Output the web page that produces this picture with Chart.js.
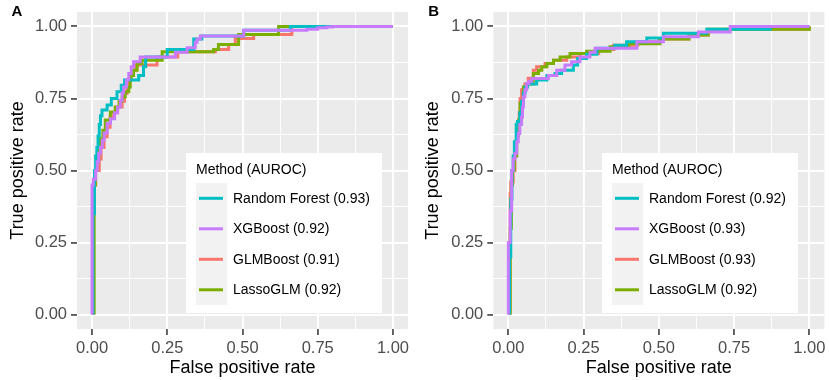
<!DOCTYPE html>
<html><head><meta charset="utf-8">
<script src="https://cdn.jsdelivr.net/npm/chart.js@4/dist/chart.umd.min.js"></script>
<style>
html,body{margin:0;padding:0;background:#fff;}
#wrap{position:relative;width:829px;height:380px;}
canvas{position:absolute;top:0;}
#cA{left:0}
#cB{left:415px}
</style></head><body>
<div id="wrap"><canvas id="cA" width="415" height="380"></canvas><canvas id="cB" width="414" height="380"></canvas></div>
<script>
// ---- data ----
const methods = ['Random Forest', 'XGBoost', 'GLMBoost', 'LassoGLM'];
const aurocA = [0.93, 0.92, 0.91, 0.92];
const aurocB = [0.92, 0.93, 0.93, 0.92];
const majorTicks = [0, 0.25, 0.5, 0.75, 1];
const minorTicks = [0.125, 0.375, 0.625, 0.875];
const xTitle = 'False positive rate';
const yTitle = 'True positive rate';
const legendTitle = 'Method (AUROC)';

// ROC step points [fpr where the level ends, tpr level]
const rocA_RF = [[0.003,0],[0.008,0.35],[0.012,0.50],[0.016,0.55],[0.020,0.58],[0.024,0.62],[0.028,0.66],[0.033,0.69],[0.050,0.71],[0.064,0.727],[0.083,0.75],[0.097,0.773],[0.108,0.796],[0.155,0.814],[0.171,0.83],[0.178,0.86],[0.250,0.894],[0.338,0.92],[0.365,0.956],[0.504,0.967],[0.659,0.987],[1.0,1.0]];
const rocA_XGB = [[0,0],[0.004,0.45],[0.012,0.47],[0.017,0.50],[0.022,0.53],[0.028,0.56],[0.034,0.58],[0.040,0.605],[0.050,0.63],[0.061,0.663],[0.075,0.68],[0.085,0.70],[0.094,0.72],[0.100,0.744],[0.105,0.77],[0.114,0.79],[0.122,0.815],[0.130,0.837],[0.138,0.86],[0.160,0.877],[0.277,0.894],[0.316,0.91],[0.343,0.926],[0.349,0.945],[0.360,0.956],[0.504,0.967],[0.714,0.987],[0.750,0.99],[0.780,0.995],[0.800,0.998],[1.0,1.0]];
const rocA_GLM = [[0.005,0],[0.012,0.45],[0.024,0.50],[0.030,0.54],[0.040,0.58],[0.050,0.617],[0.060,0.65],[0.072,0.686],[0.085,0.70],[0.100,0.72],[0.108,0.74],[0.116,0.767],[0.122,0.79],[0.127,0.814],[0.135,0.83],[0.144,0.848],[0.216,0.866],[0.285,0.894],[0.410,0.912],[0.454,0.92],[0.476,0.937],[0.537,0.958],[0.664,0.972],[1.0,1.0]];
const rocA_Lasso = [[0.007,0],[0.011,0.45],[0.015,0.50],[0.022,0.54],[0.028,0.582],[0.036,0.61],[0.044,0.64],[0.061,0.675],[0.077,0.703],[0.090,0.72],[0.100,0.74],[0.110,0.755],[0.122,0.773],[0.127,0.79],[0.130,0.814],[0.138,0.83],[0.150,0.848],[0.166,0.871],[0.233,0.883],[0.404,0.912],[0.420,0.92],[0.487,0.937],[0.620,0.972],[1.0,1.0]];

const rocB_RF = [[0.004,0],[0.008,0.20],[0.012,0.40],[0.016,0.50],[0.020,0.55],[0.026,0.60],[0.030,0.66],[0.038,0.67],[0.044,0.70],[0.050,0.74],[0.056,0.77],[0.064,0.79],[0.094,0.80],[0.128,0.814],[0.155,0.83],[0.177,0.837],[0.216,0.848],[0.230,0.866],[0.260,0.889],[0.294,0.903],[0.354,0.924],[0.393,0.935],[0.460,0.947],[0.515,0.96],[0.659,0.976],[0.870,0.99],[1.0,1.0]];
const rocB_XGB = [[0,0],[0.006,0.25],[0.011,0.36],[0.016,0.50],[0.022,0.54],[0.028,0.56],[0.033,0.60],[0.038,0.628],[0.044,0.66],[0.047,0.686],[0.050,0.72],[0.055,0.755],[0.061,0.78],[0.068,0.802],[0.078,0.81],[0.133,0.819],[0.161,0.83],[0.188,0.848],[0.210,0.866],[0.238,0.877],[0.271,0.894],[0.288,0.91],[0.427,0.924],[0.515,0.947],[0.631,0.964],[0.737,0.981],[1.0,1.0]];
const rocB_GLM = [[0.006,0],[0.008,0.42],[0.016,0.46],[0.022,0.50],[0.026,0.55],[0.030,0.60],[0.036,0.65],[0.039,0.70],[0.044,0.75],[0.055,0.78],[0.066,0.80],[0.083,0.82],[0.094,0.848],[0.122,0.86],[0.150,0.871],[0.194,0.883],[0.238,0.894],[0.300,0.906],[0.350,0.92],[0.430,0.935],[0.500,0.947],[0.600,0.956],[0.664,0.97],[0.726,0.984],[1.0,0.99],[1.0,1.0]];
const rocB_Lasso = [[0.006,0],[0.010,0.30],[0.014,0.45],[0.020,0.50],[0.028,0.55],[0.034,0.62],[0.039,0.675],[0.050,0.733],[0.061,0.79],[0.083,0.80],[0.100,0.837],[0.111,0.848],[0.128,0.86],[0.150,0.871],[0.172,0.883],[0.205,0.894],[0.260,0.906],[0.338,0.914],[0.400,0.929],[0.504,0.94],[0.600,0.956],[0.664,0.97],[1.0,0.99],[1.0,1.0]];

// ---- style ----
const methodColors = ['#00BFC4', '#C77CFF', '#F8766D', '#7CAE00'];
const drawOrder = [1, 0, 3, 2]; // lower = on top
Chart.defaults.font.family = "'Liberation Sans', Arial, Helvetica, sans-serif";

const isMajor = v => Math.abs(v * 4 - Math.round(v * 4)) < 1e-9;

function makeScale(axis, title, fitSize) {
  return {
    type: 'linear', min: -0.05, max: 1.05,
    afterBuildTicks: s => { s.ticks = [...majorTicks, ...minorTicks].sort((a, b) => a - b).map(v => ({ value: v })); },
    afterFit: s => {
      if (axis === 'y') s.width = fitSize; else s.height = fitSize;
      s.paddingTop = 0; s.paddingBottom = 0; s.paddingLeft = 0; s.paddingRight = 0;
    },
    border: { display: false },
    grid: {
      color: '#FFFFFF',
      lineWidth: c => (c.tick && isMajor(c.tick.value)) ? 1.9 : 0.95,
      tickLength: 6,
      tickColor: c => (c.tick && isMajor(c.tick.value)) ? '#333333' : 'rgba(0,0,0,0)',
      tickWidth: 1.5
    },
    ticks: {
      callback: v => isMajor(v) ? v.toFixed(2) : '',
      color: '#4D4D4D', font: { size: 16.5 }, padding: 4,
      autoSkip: false, maxRotation: 0, minRotation: 0
    },
    title: { display: true, text: title, color: '#000000', font: { size: 18 },
      padding: axis === 'y' ? { top: 7.7, bottom: 0 } : { top: 0, bottom: 1.2 } }
  };
}

const panelPlugin = {
  id: 'panelDecor',
  beforeDraw(chart) {
    const { ctx, chartArea: a } = chart;
    ctx.save();
    ctx.fillStyle = '#EBEBEB';
    ctx.fillRect(a.left, a.top, a.right - a.left, a.bottom - a.top);
    ctx.restore();
  },
  afterDraw(chart) {
    const o = chart.options.plugins.panelDecor;
    const ctx = chart.ctx;
    ctx.save();
    // panel tag
    ctx.fillStyle = '#000';
    ctx.font = "bold 15px 'Liberation Sans', Arial, sans-serif";
    ctx.textBaseline = 'alphabetic';
    ctx.textAlign = 'left';
    ctx.fillText(o.tag, o.tagX, 15.6);
    // legend
    const x = o.lx, y = o.ly;
    ctx.fillStyle = '#FFFFFF';
    ctx.fillRect(x, y, 196, 160);
    ctx.fillStyle = '#000';
    ctx.font = "14px 'Liberation Sans', Arial, sans-serif";
    ctx.textBaseline = 'middle';
    ctx.fillText(legendTitle, x + 10, y + 17);
    ctx.fillStyle = '#F2F2F2';
    ctx.fillRect(x + 10, y + 30, 31, 122);
    for (let i = 0; i < methods.length; i++) {
      const cy = y + 45.3 + i * 30.5;
      ctx.strokeStyle = methodColors[i];
      ctx.lineWidth = 3;
      ctx.lineCap = 'butt';
      ctx.beginPath(); ctx.moveTo(x + 13, cy); ctx.lineTo(x + 37, cy); ctx.stroke();
      ctx.fillStyle = '#000';
      ctx.fillText(methods[i] + ' (' + o.auroc[i].toFixed(2) + ')', x + 47, cy + 0.5);
    }
    ctx.restore();
  }
};

function makeChart(id, series, auroc, opts) {
  const datasets = series.map((s, i) => ({
    label: methods[i],
    data: s.map(p => ({ x: p[0], y: p[1] })),
    borderColor: methodColors[i],
    backgroundColor: methodColors[i],
    borderWidth: 3,
    pointRadius: 0,
    fill: false,
    stepped: 'after',
    borderCapStyle: 'butt',
    borderJoinStyle: 'miter',
    order: drawOrder[i]
  }));
  return new Chart(document.getElementById(id), {
    type: 'line',
    data: { datasets },
    plugins: [panelPlugin],
    options: {
      responsive: false, animation: false, devicePixelRatio: 1,
      layout: { padding: { left: 0, top: 12, right: opts.padRight, bottom: 0 } },
      scales: {
        x: makeScale('x', xTitle, 51),
        y: makeScale('y', yTitle, opts.yWidth)
      },
      plugins: {
        legend: { display: false },
        tooltip: { enabled: false },
        panelDecor: { tag: opts.tag, tagX: opts.tagX, lx: opts.lx, ly: 153, auroc }
      }
    }
  });
}

makeChart('cA', [rocA_RF, rocA_XGB, rocA_GLM, rocA_Lasso], aurocA, { tag: 'A', tagX: 11.5, lx: 186, padRight: 7, yWidth: 77 });
makeChart('cB', [rocB_RF, rocB_XGB, rocB_GLM, rocB_Lasso], aurocB, { tag: 'B', tagX: 13.3, lx: 187, padRight: 4.6, yWidth: 78.3 });
</script>
</body></html>
